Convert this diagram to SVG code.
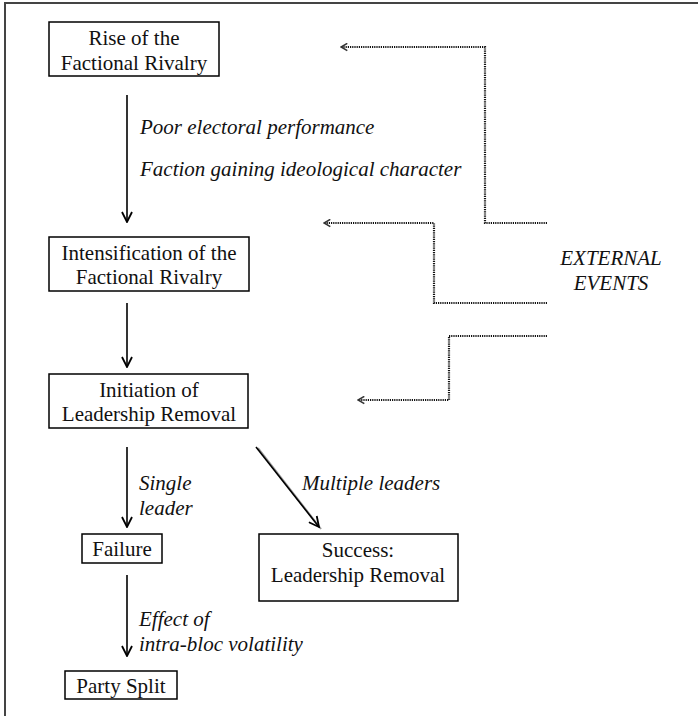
<svg xmlns="http://www.w3.org/2000/svg" width="698" height="716" viewBox="0 0 698 716">
<style>
.box{fill:#fff;stroke:#000;stroke-width:1.5}
text{font-family:"Liberation Serif","DejaVu Serif","Noto Serif",serif;font-size:21px;fill:#111}
.t{text-anchor:middle}
.it{font-style:italic}
.arr{stroke:#000;stroke-width:1.6;fill:none}
.dot{stroke:#111;stroke-width:2.2;fill:none;stroke-dasharray:1.2 1}
</style>
<defs>
<marker id="ah" viewBox="0 0 12 12" refX="11" refY="6" markerWidth="12" markerHeight="12" markerUnits="userSpaceOnUse" orient="auto">
<path d="M1,1 L11,6 L1,11" fill="none" stroke="#000" stroke-width="1.8"/>
</marker>
<marker id="dh" viewBox="0 0 10 10" refX="9" refY="5" markerWidth="9" markerHeight="9" markerUnits="userSpaceOnUse" orient="auto">
<path d="M2,1 L9,5 L2,9" fill="none" stroke="#333" stroke-width="1.8"/>
</marker>
</defs>
<rect width="698" height="716" fill="#fff"/>
<rect x="5" y="3" width="720" height="740" fill="none" stroke="#444" stroke-width="2"/>
<g id="n1"><rect class="box" x="49" y="22" width="170" height="54"/><text class="t" x="134" y="45">Rise of the</text><text class="t" x="134" y="70">Factional Rivalry</text></g>
<g id="n2"><rect class="box" x="49" y="237" width="200" height="54"/><text class="t" x="149" y="260">Intensification of the</text><text class="t" x="149" y="284">Factional Rivalry</text></g>
<g id="n3"><rect class="box" x="49" y="374" width="199" height="54"/><text class="t" x="149" y="397">Initiation of</text><text class="t" x="149" y="421">Leadership Removal</text></g>
<g id="n4"><rect class="box" x="82" y="534" width="80" height="29"/><text class="t" x="122" y="556">Failure</text></g>
<g id="n5"><rect class="box" x="259" y="534" width="199" height="67"/><text class="t" x="358" y="557">Success:</text><text class="t" x="358" y="582">Leadership Removal</text></g>
<g id="n6"><rect class="box" x="65" y="671" width="112" height="28"/><text class="t" x="121" y="693">Party Split</text></g>
<g id="ext"><text class="it t" x="611" y="265">EXTERNAL</text><text class="it t" x="611" y="290">EVENTS</text></g>
<g id="connectors">
<line class="arr" x1="127" y1="95" x2="127" y2="222" marker-end="url(#ah)"/>
<line class="arr" x1="127" y1="303" x2="127" y2="367" marker-end="url(#ah)"/>
<line class="arr" x1="127" y1="447" x2="127" y2="527" marker-end="url(#ah)"/>
<line class="arr" x1="127" y1="575" x2="127" y2="656" marker-end="url(#ah)"/>
<line x1="258" y1="448" x2="321" y2="529" stroke="#999" stroke-width="2"/>
<line class="arr" x1="256" y1="447" x2="319" y2="527" marker-end="url(#ah)"/>
<polyline class="dot" points="547,223 485,223 485,47 341,47" marker-end="url(#dh)"/>
<polyline class="dot" points="547,303 434,303 434,223 324,223" marker-end="url(#dh)"/>
<polyline class="dot" points="547,336 449,336 449,400 358,400" marker-end="url(#dh)"/>
</g>
<g id="labels">
<text class="it" x="140" y="134">Poor electoral performance</text>
<text class="it" x="140" y="176">Faction gaining ideological character</text>
<text class="it" x="139" y="490">Single</text>
<text class="it" x="139" y="515">leader</text>
<text class="it" x="302" y="490">Multiple leaders</text>
<text class="it" x="139" y="626">Effect of</text>
<text class="it" x="139" y="651">intra-bloc volatility</text>
</g>
</svg>
